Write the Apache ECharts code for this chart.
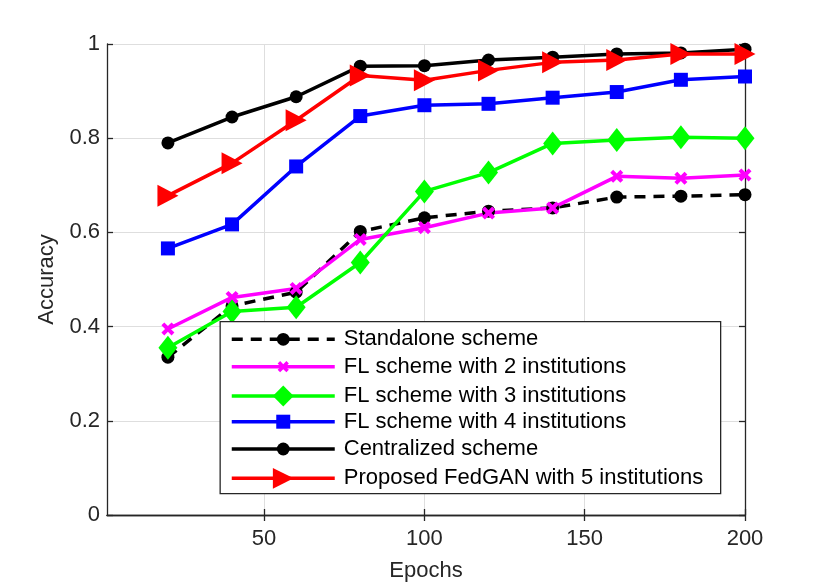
<!DOCTYPE html>
<html>
<head>
<meta charset="utf-8">
<script src="https://cdn.jsdelivr.net/npm/echarts@6/dist/echarts.min.js"></script>
<style>html,body{margin:0;padding:0;background:#fff}#c{width:822px;height:587px}</style>
</head>
<body>
<div id="c"></div>
<script>
const epochs = [20, 40, 60, 80, 100, 120, 140, 160, 180, 200];
const standalone = [0.335, 0.444, 0.473, 0.602, 0.631, 0.645, 0.652, 0.675, 0.677, 0.680];
const fl2 = [0.395, 0.462, 0.481, 0.585, 0.610, 0.641, 0.652, 0.719, 0.715, 0.722];
const fl3 = [0.355, 0.432, 0.441, 0.536, 0.687, 0.727, 0.789, 0.796, 0.802, 0.800];
const fl4 = [0.566, 0.617, 0.740, 0.847, 0.870, 0.873, 0.886, 0.898, 0.924, 0.931];
const centralized = [0.790, 0.845, 0.888, 0.953, 0.954, 0.966, 0.972, 0.979, 0.981, 0.989];
const fedgan = [0.678, 0.747, 0.838, 0.933, 0.923, 0.944, 0.961, 0.966, 0.979, 0.979];
const xTicks = [50, 100, 150, 200];
const names = ['Standalone scheme', 'FL scheme with 2 institutions', 'FL scheme with 3 institutions',
  'FL scheme with 4 institutions', 'Centralized scheme', 'Proposed FedGAN with 5 institutions'];

const pairs = a => epochs.map((e, i) => [e, a[i]]);
const xMark = 'path://M0,2.2 L2.2,0 L5,2.8 L7.8,0 L10,2.2 L7.2,5 L10,7.8 L7.8,10 L5,7.2 L2.2,10 L0,7.8 L2.8,5 Z';
const txt = '#262626';
const font = 'Liberation Sans, Arial, Helvetica, sans-serif';

function mk(name, data, color, symbol, size, extra) {
  return Object.assign({
    name: name, type: 'line', data: pairs(data), symbol: symbol, symbolSize: size,
    lineStyle: {color: color, width: 3.5}, itemStyle: {color: color},
    xAxisIndex: 0, yAxisIndex: 0, animation: false, z: 2
  }, extra || {});
}

// legend layout: one legend per row so each marker can have its own size
const rowCenters = [339.3, 366.7, 394, 421.7, 449, 476.3];
const legendIconH = [16, 14, 26, 17.5, 16, 26];
const legends = names.map((n, i) => {
  const ih = legendIconH[i];
  const off = ih > 22 ? 9 : 11;
  return {
    orient: 'vertical', left: 230, top: rowCenters[i] - off,
    data: [n], itemWidth: 103, itemHeight: ih, padding: 0, z: 5,
    selectedMode: false,
    lineStyle: {width: 3.5},
    textStyle: {fontSize: 22, color: '#000', fontFamily: font, lineHeight: 22, padding: [0, 0, 0, 4]}
  };
});

const chart = echarts.init(document.getElementById('c'));
chart.setOption({
  backgroundColor: '#fff',
  animation: false,
  textStyle: {fontFamily: font},
  grid: {left: 107, right: 77, top: 44, bottom: 68.5},
  legend: legends,
  graphic: [{
    type: 'rect', z: 4, left: 219.5, top: 321,
    shape: {width: 500.5, height: 172},
    style: {fill: '#fff', stroke: '#262626', lineWidth: 1.3}
  }],
  xAxis: [{
    type: 'value', min: 1, max: 200, position: 'bottom',
    name: 'Epochs', nameLocation: 'middle', nameGap: 45,
    nameTextStyle: {fontSize: 22, color: txt, fontFamily: font},
    axisLine: {lineStyle: {color: txt, width: 1.3}},
    axisTick: {inside: true, length: 6, customValues: xTicks, lineStyle: {color: txt, width: 1.3}},
    axisLabel: {customValues: xTicks, fontSize: 22, color: txt, margin: 13, fontFamily: font},
    splitLine: {show: true, lineStyle: {color: '#dedede', width: 1}}
  }, {
    type: 'value', min: 1, max: 200, position: 'top',
    axisLine: {lineStyle: {color: txt, width: 1.3}},
    axisTick: {inside: true, length: 6, customValues: xTicks, lineStyle: {color: txt, width: 1.3}},
    axisLabel: {show: false}, splitLine: {show: false}
  }],
  yAxis: [{
    type: 'value', min: 0, max: 1, interval: 0.2, position: 'left',
    name: 'Accuracy', nameLocation: 'middle', nameGap: 49, nameRotate: 90,
    nameTextStyle: {fontSize: 22, color: txt, fontFamily: font},
    axisLine: {show: true, lineStyle: {color: txt, width: 1.3}},
    axisTick: {show: true, inside: true, length: 6, lineStyle: {color: txt, width: 1.3}},
    axisLabel: {fontSize: 22, color: txt, margin: 7, fontFamily: font},
    splitLine: {show: true, lineStyle: {color: '#dedede', width: 1}}
  }, {
    type: 'value', min: 0, max: 1, interval: 0.2, position: 'right',
    axisLine: {show: true, lineStyle: {color: txt, width: 1.3}},
    axisTick: {show: true, inside: true, length: 6, lineStyle: {color: txt, width: 1.3}},
    axisLabel: {show: false}, splitLine: {show: false}
  }],
  series: [
    mk(names[0], standalone, '#000000', 'circle', 13, {lineStyle: {color: '#000', width: 3.5, type: [11, 8]}}),
    mk(names[1], fl2, '#ff00ff', xMark, 13),
    mk(names[2], fl3, '#00ff00', 'diamond', [19, 24]),
    mk(names[3], fl4, '#0000ff', 'rect', 14),
    mk(names[4], centralized, '#000000', 'circle', 13),
    mk(names[5], fedgan, '#ff0000', 'triangle', [22, 21], {symbolRotate: -90})
  ]
});
</script>
</body>
</html>
